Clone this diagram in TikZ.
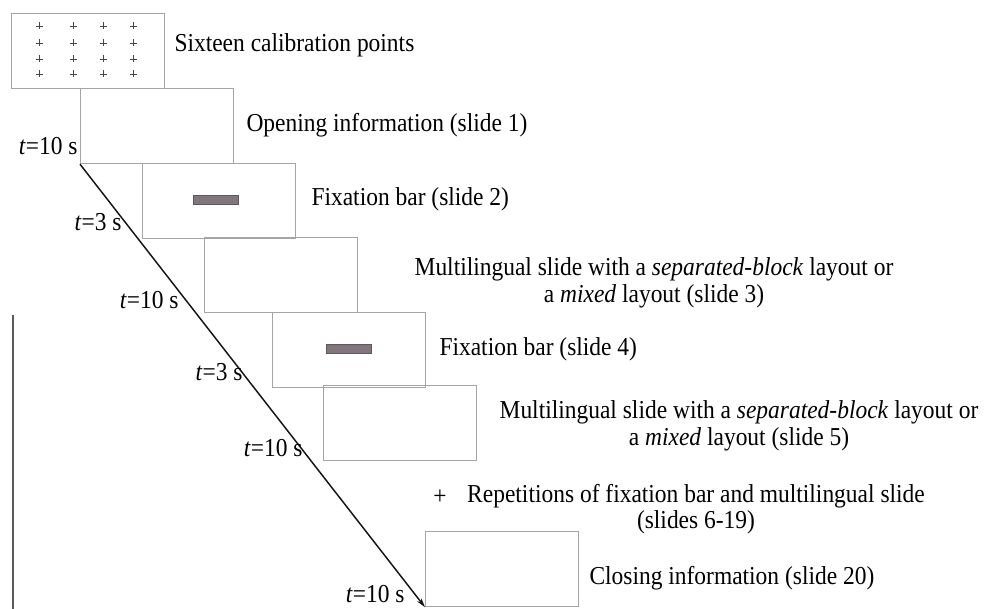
\documentclass[tikz,border=0pt]{standalone}
\usepackage{fontspec}
\setmainfont{Liberation Serif}
\usetikzlibrary{arrows.meta}

\tikzset{every picture/.style={line width=0.75pt}}
\tikzset{
  slide/.style={draw={rgb, 255:red, 165; green, 165; blue, 165 }, line width=0.9pt, minimum width=114.75pt, minimum height=56.25pt, inner sep=0pt, anchor=north west},
  bar/.style={draw={rgb, 255:red, 95; green, 88; blue, 92 }, fill={rgb, 255:red, 128; green, 118; blue, 123 }, line width=0.6pt},
  caption/.style={inner sep=0.75pt, yscale=1.1, font=\fontsize{17.6}{18}\selectfont},
  tlabel/.style={anchor=east, inner sep=0.75pt, yscale=1.1, font=\fontsize{17.6}{18}\selectfont},
  calcross/.style={draw={rgb, 255:red, 70; green, 70; blue, 70 }, line width=0.6pt}
}

\begin{document}
\begin{tikzpicture}[x=0.75pt,y=0.75pt,yscale=-1,xscale=1]
        \useasboundingbox (0,0) rectangle (989,609);

        %Shape: Slides
        \node [slide] (calib) at (11,13) {};
        \node [slide] (open) at (80,88) {};
        \node [slide] (fixa) at (142,163) {};
        \node [slide] (multia) at (204,237) {};
        \node [slide] (fixb) at (272,312) {};
        \node [slide] (multib) at (323,385) {};
        \node [slide] (close) at (425,531) {};

        %Shape: Calibration points
        \foreach \cx in {39,73,103,133}
          \foreach \cy in {26,43,59,74}
            \draw [calcross] (\cx-3.5,\cy) -- (\cx+3.5,\cy) (\cx,\cy-3.5) -- (\cx,\cy+3.5) ;

        %Shape: Fixation bars
        \draw [bar] (193,195) rectangle (238,204) ;
        \draw [bar] (326,344) rectangle (371,353) ;

        %Straight Lines
        \draw [color={rgb, 255:red, 90; green, 90; blue, 90 }, line width=0.9pt] (13,315) -- (13,609) ;
        %Time line
        \draw [color={rgb, 255:red, 20; green, 20; blue, 20 }, line width=1.1pt, -{Stealth[length=7pt,width=4pt]}] (open.south west) -- (close.south west) ;

        % Text Node
        \draw (173,45) node [caption, anchor=west] (calibtxt) {Sixteen calibration points};
        % Text Node
        \draw (245,125) node [caption, anchor=west] (opentxt) {Opening information (slide 1)};
        % Text Node
        \draw (310,199) node [caption, anchor=west] (fixatxt) {Fixation bar (slide 2)};
        % Text Node
        \draw (654,283) node [caption, align=center] (multiatxt) {Multilingual slide with a \textit{separated-block} layout or\\a \textit{mixed} layout (slide 3)};
        % Text Node
        \draw (438,349) node [caption, anchor=west] (fixbtxt) {Fixation bar (slide 4)};
        % Text Node
        \draw (739,426) node [caption, align=center] (multibtxt) {Multilingual slide with a \textit{separated-block} layout or\\a \textit{mixed} layout (slide 5)};
        % Text Node
        \draw (440,497) node [caption] (plus) {+};
        % Text Node
        \draw (696,509) node [caption, align=center] (reptxt) {Repetitions of fixation bar and multilingual slide\\(slides 6-19)};
        % Text Node
        \draw (588,578) node [caption, anchor=west] (closetxt) {Closing information (slide 20)};

        % Time labels
        \draw (79,146) node [tlabel] (ta) {\textit{t}=10 s};
        \draw (123,222) node [tlabel] (tb) {\textit{t}=3 s};
        \draw (180,300) node [tlabel] (tc) {\textit{t}=10 s};
        \draw (244,372) node [tlabel] (td) {\textit{t}=3 s};
        \draw (304,448) node [tlabel] (te) {\textit{t}=10 s};
        \draw (406,594) node [tlabel] (tf) {\textit{t}=10 s};

\end{tikzpicture}
\end{document}
